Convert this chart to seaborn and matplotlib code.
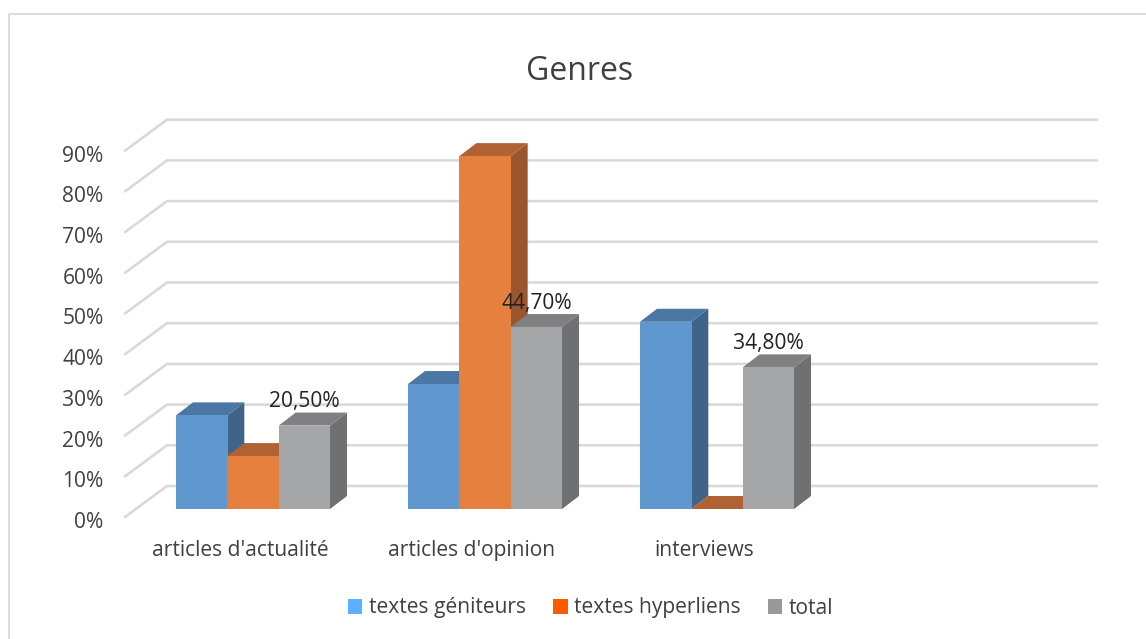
import matplotlib.pyplot as plt
import matplotlib.transforms as mtrans
import pandas as pd
import seaborn as sns
from matplotlib.lines import Line2D
from matplotlib.patches import Patch, Polygon

genres = ["articles d'actualité", "articles d'opinion", "interviews"]
geniteurs = [23.0, 30.7, 46.0]
hyperliens = [13.0, 86.7, 0.0]
total = [20.5, 44.7, 34.8]
total_labels = ["20,50%", "44,70%", "34,80%"]
series_names = ["textes géniteurs", "textes hyperliens", "total"]
y_ticks = list(range(0, 100, 10))

front_colors = ["#6097CE", "#E6803F", "#A5A6A8"]
top_colors = ["#4A77A3", "#B06233", "#808083"]
side_colors = ["#3F6488", "#9C562E", "#6F7072"]
legend_colors = ["#5BB0FF", "#FF5A00", "#999999"]
text_color = "#404040"
grid_color = "#D9D9D9"

# depth of the fake 3D box, in pixels
DX, DY = 17, 13

W, H = 1146, 639

sns.set_theme(style="white")
plt.rcParams["font.family"] = ["Open Sans", "DejaVu Sans"]

df = pd.DataFrame({
    "genre": genres * 3,
    "serie": [s for s in series_names for _ in genres],
    "value": geniteurs + hyperliens + total,
})

fig = plt.figure(figsize=(W / 100, H / 100), dpi=100)
ax = fig.add_axes([137 / W, (H - 509) / H, 928 / W, 366.3 / H])
sns.barplot(data=df, x="genre", y="value", hue="serie", order=genres,
            hue_order=series_names, palette=front_colors, width=0.664, gap=0,
            legend=False, saturation=1, ax=ax)
ax.set_xlim(-0.5, 3.5)
ax.set_ylim(0, 90)
ax.set_xlabel("")
ax.set_ylabel("")
ax.set_yticks(y_ticks)
ax.set_yticklabels([f"{v}%" for v in y_ticks])
ax.set_xticks(range(len(genres)))
ax.set_xticklabels(genres)
ax.tick_params(axis="both", length=0, labelsize=15.1, labelcolor=text_color)
ax.tick_params(axis="y", pad=24)
ax.tick_params(axis="x", pad=22)
sns.despine(ax=ax, left=True, bottom=True)
ax.patch.set_alpha(0)

# labels sit lower / further left than the bars because of the 3D floor
for lab in ax.get_xticklabels():
    lab.set_transform(lab.get_transform() + mtrans.Affine2D().translate(-13, 0))
for lab in ax.get_yticklabels():
    lab.set_transform(lab.get_transform() + mtrans.Affine2D().translate(0, -11))

# wall gridlines: front edge, diagonal, back wall
to_px = mtrans.IdentityTransform()
left_px = ax.transData.transform((-0.5, 0))[0]
right_px = ax.transData.transform((3.5, 0))[0]
for v in y_ticks:
    y_px = ax.transData.transform((0, v))[1]
    xs = [left_px - 12, left_px + 30, right_px + 32]
    ys = [y_px - 8, y_px + 23, y_px + 23]
    fig.add_artist(Line2D(xs, ys, transform=to_px, color=grid_color, lw=1.9, zorder=0))

# boxes, painted from left to right so each one covers the previous side face
for s, container in enumerate(ax.containers):
    for g, bar in enumerate(container):
        z = 3 + (g * 3 + s) * 2
        x0, y0 = ax.transData.transform((bar.get_x(), 0))
        x1, y1 = ax.transData.transform((bar.get_x() + bar.get_width(), bar.get_height()))
        top = [(x0, y1), (x1, y1), (x1 + DX, y1 + DY), (x0 + DX, y1 + DY)]
        side = [(x1, y0), (x1 + DX, y0 + DY), (x1 + DX, y1 + DY), (x1, y1)]
        ax.add_patch(Polygon(side, transform=to_px, fc=side_colors[s], ec="none",
                             clip_on=False, zorder=z))
        ax.add_patch(Polygon(top, transform=to_px, fc=top_colors[s], ec="none",
                             clip_on=False, zorder=z))
        bar.set_zorder(z + 1)
        bar.set_edgecolor("none")
        if s == 2:
            ax.annotate(total_labels[g], (x0 / 2 + x1 / 2, y1), xycoords=to_px,
                        xytext=(0, 24 * 0.72), textcoords="offset points",
                        ha="center", va="center", fontsize=15.1, color="#222222",
                        zorder=50)

fig.text(580 / W, (H - 71) / H, "Genres", ha="center", va="center",
         fontsize=23, color=text_color)

handles = [Patch(fc=c, ec="none") for c in legend_colors]
fig.legend(handles, series_names, ncol=3, frameon=False, fontsize=15.1,
           labelcolor=text_color, loc="center", bbox_to_anchor=(590.5 / W, (H - 608) / H),
           handlelength=0.7, handleheight=0.7, handletextpad=0.3, columnspacing=1.3)

# chart frame, cut by the picture edge on the right and at the bottom
fig.add_artist(Line2D([9, 9, W], [0, H - 14, H - 14], transform=to_px,
                      color=grid_color, lw=1.3))

fig.savefig("out.png", dpi=100)
